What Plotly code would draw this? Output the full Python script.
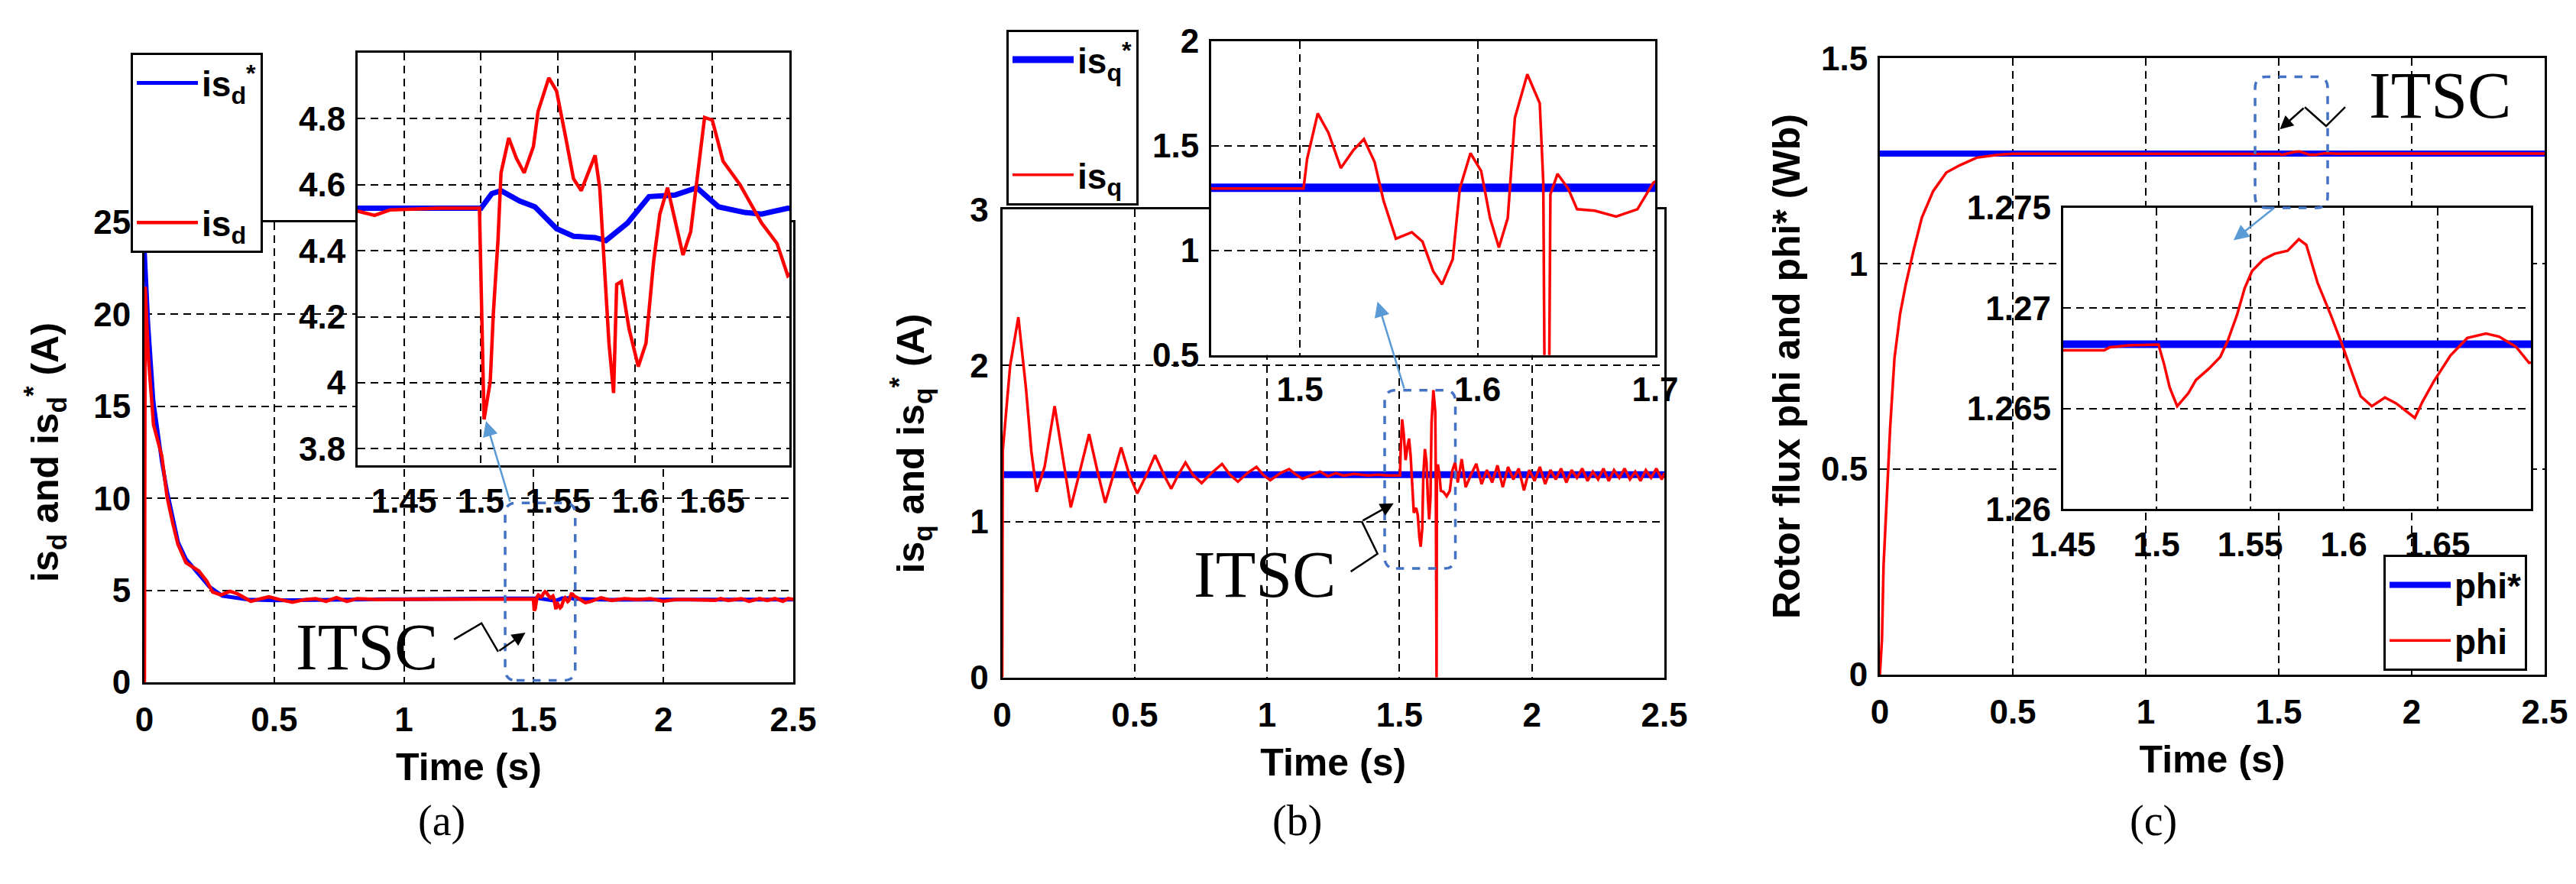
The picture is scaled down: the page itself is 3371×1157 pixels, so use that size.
import plotly.graph_objects as go

W, H = 3371, 1157

# ---- panel (a): d-axis stator current, (t [s], value [A])
ISD_PTS = [(0, 0), (0.003, 21.5), (0.015, 17.7), (0.035, 14.0), (0.067, 12.3), (0.087, 10.1),
           (0.11, 8.6), (0.129, 7.5), (0.16, 6.5), (0.21, 6.05), (0.24, 5.5), (0.263, 4.9),
           (0.295, 4.75), (0.33, 4.95), (0.36, 4.8), (0.41, 4.4), (0.45, 4.55), (0.48, 4.65),
           (0.52, 4.5), (0.57, 4.35), (0.62, 4.5), (0.66, 4.55), (0.70, 4.4), (0.74, 4.6),
           (0.78, 4.4), (0.82, 4.55), (0.90, 4.5), (1.00, 4.5), (1.10, 4.52), (1.20, 4.5),
           (1.30, 4.52), (1.40, 4.52), (1.420, 4.52), (1.431, 4.507), (1.441, 4.524),
           (1.473, 4.529), (1.499, 4.529), (1.502, 3.889), (1.506, 4.004), (1.508, 4.209),
           (1.511, 4.43), (1.513, 4.636), (1.518, 4.742), (1.523, 4.68), (1.528, 4.636),
           (1.534, 4.716), (1.537, 4.822), (1.544, 4.924), (1.549, 4.884), (1.555, 4.742),
           (1.560, 4.618), (1.565, 4.582), (1.570, 4.644), (1.574, 4.689), (1.577, 4.591),
           (1.581, 4.253), (1.583, 4.12), (1.586, 3.969), (1.588, 4.298), (1.591, 4.307),
           (1.596, 4.164), (1.602, 4.049), (1.607, 4.12), (1.612, 4.369), (1.616, 4.511),
           (1.621, 4.591), (1.626, 4.484), (1.631, 4.387), (1.636, 4.458), (1.642, 4.698),
           (1.645, 4.804), (1.650, 4.796), (1.657, 4.671), (1.668, 4.6), (1.682, 4.484),
           (1.692, 4.422), (1.699, 4.324), (1.72, 4.40), (1.76, 4.6), (1.80, 4.45),
           (1.85, 4.55), (1.90, 4.5), (1.95, 4.55), (2.00, 4.4), (2.05, 4.5), (2.10, 4.5),
           (2.20, 4.45), (2.22, 4.55), (2.25, 4.45), (2.30, 4.55), (2.33, 4.4), (2.37, 4.55),
           (2.40, 4.45), (2.43, 4.55), (2.46, 4.4), (2.48, 4.55), (2.50, 4.5)]
ISD_REF_PTS = [(0, 24.0), (0.015, 19.5), (0.035, 15.3), (0.067, 12.0), (0.087, 10.4), (0.11, 8.8),
               (0.13, 7.6), (0.16, 6.7), (0.2, 6.0), (0.25, 5.2), (0.3, 4.7), (0.35, 4.6),
               (0.4, 4.5), (0.5, 4.45), (0.6, 4.48), (0.8, 4.5), (1.0, 4.52), (1.2, 4.53),
               (1.42, 4.529), (1.50, 4.529), (1.507, 4.573), (1.513, 4.582), (1.525, 4.551),
               (1.535, 4.533), (1.549, 4.467), (1.560, 4.444), (1.574, 4.44), (1.581, 4.431),
               (1.595, 4.484), (1.609, 4.564), (1.626, 4.569), (1.640, 4.591), (1.654, 4.533),
               (1.671, 4.516), (1.682, 4.511), (1.699, 4.529), (1.75, 4.5), (1.8, 4.48),
               (2.0, 4.5), (2.5, 4.5)]

# ---- panel (b): q-axis stator current
ISQ_PTS = [(0, 0), (0.002, 1.45), (0.03, 2.0), (0.061, 2.31), (0.09, 1.85), (0.11, 1.45),
           (0.13, 1.19), (0.16, 1.35), (0.198, 1.74), (0.23, 1.4), (0.259, 1.09), (0.29, 1.3),
           (0.328, 1.56), (0.36, 1.32), (0.389, 1.12), (0.42, 1.3), (0.449, 1.475), (0.48, 1.3),
           (0.51, 1.18), (0.545, 1.3), (0.577, 1.425), (0.61, 1.3), (0.638, 1.21), (0.665, 1.3),
           (0.692, 1.378), (0.72, 1.3), (0.753, 1.246), (0.79, 1.31), (0.83, 1.369), (0.86, 1.3),
           (0.89, 1.255), (0.925, 1.31), (0.96, 1.35), (0.985, 1.3), (1.012, 1.264), (1.05, 1.31),
           (1.083, 1.336), (1.11, 1.3), (1.134, 1.274), (1.17, 1.3), (1.2, 1.32), (1.23, 1.29),
           (1.26, 1.31), (1.29, 1.295), (1.33, 1.305), (1.38, 1.295), (1.42, 1.3), (1.451, 1.296),
           (1.502, 1.296), (1.504, 1.437), (1.510, 1.655), (1.516, 1.563), (1.523, 1.394),
           (1.530, 1.479), (1.536, 1.532), (1.542, 1.423), (1.547, 1.239), (1.554, 1.056),
           (1.563, 1.087), (1.569, 1.042), (1.575, 0.901), (1.580, 0.838), (1.586, 0.958),
           (1.590, 1.296), (1.596, 1.465), (1.602, 1.380), (1.607, 1.155), (1.612, 1.014),
           (1.617, 1.155), (1.621, 1.634), (1.628, 1.842), (1.635, 1.704), (1.637, 1.324),
           (1.638, 0.0), (1.640, 0.0), (1.641, 1.268), (1.645, 1.366), (1.651, 1.296),
           (1.656, 1.197), (1.666, 1.19), (1.678, 1.162), (1.690, 1.197), (1.696, 1.282),
           (1.699, 1.324), (1.71, 1.38), (1.72, 1.25), (1.735, 1.4), (1.75, 1.22), (1.77, 1.3),
           (1.79, 1.37), (1.81, 1.24), (1.83, 1.33), (1.85, 1.25), (1.87, 1.36), (1.89, 1.22),
           (1.91, 1.35), (1.93, 1.27), (1.95, 1.34), (1.97, 1.2), (1.99, 1.33), (2.01, 1.26),
           (2.03, 1.35), (2.05, 1.24), (2.07, 1.33), (2.09, 1.27), (2.11, 1.34), (2.13, 1.25),
           (2.15, 1.33), (2.17, 1.28), (2.19, 1.34), (2.21, 1.26), (2.23, 1.32), (2.25, 1.27),
           (2.27, 1.34), (2.29, 1.26), (2.31, 1.33), (2.33, 1.28), (2.35, 1.34), (2.37, 1.27),
           (2.39, 1.32), (2.41, 1.26), (2.43, 1.33), (2.45, 1.28), (2.47, 1.34), (2.49, 1.27),
           (2.50, 1.31)]
ISQ_REF_PTS = [(0, 1.3), (2.5, 1.3)]

# ---- panel (c): rotor flux
PHI_PTS = [(0, 0), (0.008, 0.086), (0.014, 0.266), (0.025, 0.424), (0.039, 0.604), (0.055, 0.77),
           (0.076, 0.877), (0.097, 0.948), (0.127, 1.033), (0.158, 1.112), (0.2, 1.176),
           (0.25, 1.222), (0.302, 1.24), (0.364, 1.258), (0.446, 1.265), (0.5, 1.2675),
           (1.0, 1.2679), (1.451, 1.2679), (1.472, 1.2679), (1.475, 1.26805), (1.485, 1.26815),
           (1.501, 1.26818), (1.504, 1.26721), (1.507, 1.26605), (1.511, 1.26512),
           (1.517, 1.26577), (1.521, 1.26642), (1.528, 1.26699), (1.534, 1.26757),
           (1.538, 1.26837), (1.543, 1.26967), (1.547, 1.27097), (1.551, 1.27184),
           (1.557, 1.27241), (1.563, 1.2727), (1.570, 1.27285), (1.576, 1.27342),
           (1.580, 1.27314), (1.586, 1.27126), (1.593, 1.26967), (1.599, 1.26822),
           (1.605, 1.26663), (1.609, 1.26562), (1.615, 1.26512), (1.622, 1.26555),
           (1.628, 1.26526), (1.634, 1.26483), (1.638, 1.26454), (1.642, 1.26533),
           (1.648, 1.26634), (1.657, 1.26764), (1.666, 1.26851), (1.676, 1.26873),
           (1.683, 1.26858), (1.692, 1.26808), (1.699, 1.26728), (1.72, 1.2675),
           (1.8, 1.268), (2.5, 1.268)]
PHI_REF_PTS = [(0, 1.2682), (2.5, 1.2682)]

XTICKS = [0, 0.5, 1, 1.5, 2, 2.5]

RED, BLUE = "#ff0000", "#0000ff"
FONT = "Liberation Sans"


def split(pts):
    return [p[0] for p in pts], [p[1] for p in pts]


def fx(p):
    return p / W


def fy(p):
    return 1 - p / H


def axis(rng, dom, anchor, ticks, size=44, **kw):
    d = dict(range=rng, domain=dom, anchor=anchor, automargin=False, showline=True,
             linecolor="black", linewidth=3, mirror=True, showgrid=True, gridcolor="black",
             gridwidth=2, griddash="10px,7px", zeroline=False, tickmode="array", tickvals=ticks,
             ticks="", tickfont=dict(family=FONT, size=size, color="black", weight="bold"))
    d.update(kw)
    return d


def rounded_rect(x0, x1, y0, y1, rx, ry):
    return (f"M {x0 + rx},{y0} L {x1 - rx},{y0} Q {x1},{y0} {x1},{y0 + ry} "
            f"L {x1},{y1 - ry} Q {x1},{y1} {x1 - rx},{y1} L {x0 + rx},{y1} "
            f"Q {x0},{y1} {x0},{y1 - ry} L {x0},{y0 + ry} Q {x0},{y0} {x0 + rx},{y0} Z")


fig = go.Figure()

panels = [
    (ISD_REF_PTS, ISD_PTS, "is<sub>d</sub><sup>*</sup>", "is<sub>d</sub>", "legend", 1, 5, 4.5),
    (ISQ_REF_PTS, ISQ_PTS, "is<sub>q</sub><sup>*</sup>", "is<sub>q</sub>", "legend2", 3, 9, 3.5),
    (PHI_REF_PTS, PHI_PTS, "phi*", "phi", "legend3", 5, 8, 3.5),
]
for ref, meas, ref_name, meas_name, leg, k, bw, rw in panels:
    main_x, main_y = ("x", "y") if k == 1 else (f"x{k}", f"y{k}")
    ins_x, ins_y = f"x{k + 1}", f"y{k + 1}"
    tr, vr = split(ref)
    tm, vm = split(meas)
    fig.add_trace(go.Scatter(x=tr, y=vr, mode="lines", name=ref_name, legend=leg,
                             legendgroup=ref_name, line=dict(color=BLUE, width=bw),
                             xaxis=main_x, yaxis=main_y))
    fig.add_trace(go.Scatter(x=tm, y=vm, mode="lines", name=meas_name, legend=leg,
                             legendgroup=meas_name, line=dict(color=RED, width=rw),
                             xaxis=main_x, yaxis=main_y))
    fig.add_trace(go.Scatter(x=tr, y=vr, mode="lines", showlegend=False,
                             line=dict(color=BLUE, width=bw + 2), xaxis=ins_x, yaxis=ins_y))
    fig.add_trace(go.Scatter(x=tm, y=vm, mode="lines", showlegend=False,
                             line=dict(color=RED, width=rw), xaxis=ins_x, yaxis=ins_y))

title_font = dict(family=FONT, size=50, color="black", weight="bold")
xtitle = dict(text="Time (s)", font=title_font, standoff=22)

legend_common = dict(xanchor="left", yanchor="top", bgcolor="white", bordercolor="black",
                     borderwidth=3, font=dict(family=FONT, size=46, color="black", weight="bold"),
                     itemwidth=80)

fig.update_layout(
    template="none",
    width=W, height=H, margin=dict(l=0, r=0, t=0, b=0),
    paper_bgcolor="white", plot_bgcolor="white",
    font=dict(family=FONT, color="black"),
    # (a)
    xaxis=axis([0, 2.5], [fx(181), fx(1030)], "y", XTICKS, title=xtitle, ticklabelstandoff=8),
    yaxis=axis([0, 25], [fy(885), fy(283)], "x", [0, 5, 10, 15, 20, 25], ticklabelstandoff=6,
               title=dict(text="is<sub>d</sub> and is<sub>d</sub><sup>*</sup> (A)",
                          font=title_font, standoff=30)),
    xaxis2=axis([1.42, 1.70], [fx(460), fx(1025)], "y2", [1.45, 1.5, 1.55, 1.6, 1.65],
                ticklabelstandoff=6),
    yaxis2=axis([3.75, 5.0], [fy(601), fy(61)], "x2", [3.8, 4, 4.2, 4.4, 4.6, 4.8],
                ticklabelstandoff=4),
    # (b)
    xaxis3=axis([0, 2.5], [fx(1303.5), fx(2170)], "y3", XTICKS, title=xtitle, ticklabelstandoff=8),
    yaxis3=axis([0, 3], [fy(878.7), fy(266.3)], "x3", [0, 1, 2, 3], ticklabelstandoff=6,
                title=dict(text="is<sub>q</sub> and is<sub>q</sub><sup>*</sup> (A)",
                           font=title_font, standoff=44)),
    xaxis4=axis([1.45, 1.70], [fx(1577), fx(2158)], "y4", [1.5, 1.6, 1.7], ticklabelstandoff=4),
    yaxis4=axis([0.5, 2.0], [fy(456.7), fy(46)], "x4", [0.5, 1, 1.5, 2], ticklabelstandoff=4),
    # (c)
    xaxis5=axis([0, 2.5], [fx(2452), fx(3322)], "y5", XTICKS, title=xtitle, ticklabelstandoff=8),
    yaxis5=axis([0, 1.5], [fy(875), fy(68.2)], "x5", [0, 0.5, 1, 1.5], ticklabelstandoff=4,
                title=dict(text="Rotor flux phi and phi* (Wb)", font=title_font, standoff=12)),
    xaxis6=axis([1.45, 1.70], [fx(2691.7), fx(3304)], "y6", [1.45, 1.5, 1.55, 1.6, 1.65],
                ticklabelstandoff=6),
    yaxis6=axis([1.26, 1.275], [fy(658.4), fy(263.6)], "x6", [1.26, 1.265, 1.27, 1.275],
                ticklabelstandoff=4),
    legend=dict(legend_common, x=fx(163), y=fy(61), tracegroupgap=120),
    legend2=dict(legend_common, x=fx(1309), y=fy(30.6), tracegroupgap=88),
    legend3=dict(legend_common, x=fx(3111), y=fy(718), tracegroupgap=10),
)

# fault zones (dashed rounded boxes), blue zoom arrows, ITSC labels with lightning arrows
zones = [
    ("x", "y", (1.39, 1.66, 0.1, 9.75, 0.044, 0.62), (1.316, 14.2, 1.41, 9.75),
     (0.857, 1.92), [(1.193, 2.33), (1.299, 3.21), (1.363, 1.67)], (1.468, 2.7)),
    ("x3", "y3", (1.444, 1.711, 0.699, 1.842, 0.043, 0.074), (1.417, 2.41, 1.519, 1.846),
     (0.991, 0.66), [(1.316, 0.679), (1.417, 0.793), (1.357, 1.002)], (1.478, 1.117)),
    ("x5", "y5", (1.411, 1.684, 1.136, 1.455, 0.043, 0.028), (1.330, 1.057, 1.483, 1.136),
     (2.106, 1.409), [(1.75, 1.381), (1.678, 1.335), (1.598, 1.381)], (1.504, 1.327)),
]
for xr, yr, box, arrow, label, zig, tip in zones:
    fig.add_shape(type="path", xref=xr, yref=yr, path=rounded_rect(*box),
                  line=dict(color="#4472c4", width=3.5, dash="dash"))
    fig.add_annotation(xref=xr, yref=yr, axref=xr, ayref=yr, x=arrow[0], y=arrow[1],
                       ax=arrow[2], ay=arrow[3], text="", showarrow=True, arrowhead=2,
                       arrowsize=1.6, arrowwidth=2.5, arrowcolor="#5b9bd5")
    fig.add_annotation(xref=xr, yref=yr, x=label[0], y=label[1], text="ITSC", showarrow=False,
                       font=dict(family="Liberation Serif", size=86, color="black"))
    zpath = "M " + " L ".join(f"{a},{b}" for a, b in zig)
    fig.add_shape(type="path", xref=xr, yref=yr, path=zpath, line=dict(color="black", width=2.5))
    fig.add_annotation(xref=xr, yref=yr, axref=xr, ayref=yr, x=tip[0], y=tip[1],
                       ax=zig[-1][0], ay=zig[-1][1], text="", showarrow=True, arrowhead=2,
                       arrowsize=1.4, arrowwidth=2.5, arrowcolor="black")

for txt, px in [("(a)", 537), ("(b)", 1689), ("(c)", 2843)]:
    fig.add_annotation(xref="paper", yref="paper", x=fx(px), y=fy(1100), text=txt,
                       showarrow=False, font=dict(family="Liberation Serif", size=56, color="black"))

fig.write_html("out.html")
